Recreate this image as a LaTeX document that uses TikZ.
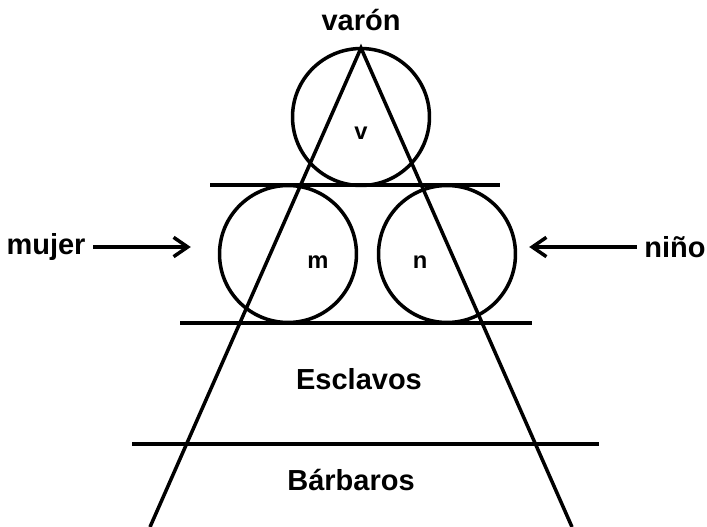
\documentclass[tikz,border=0pt]{standalone}
\usepackage{fontspec}
\setmainfont{Liberation Sans}
\usetikzlibrary{arrows.meta}

\begin{document}
\begin{tikzpicture}[x=0.02cm,y=-0.02cm,line width=2pt]
    \tikzstyle{ring}=[draw,circle,minimum size=2.74cm,inner sep=0]
    \tikzstyle{big}=[font=\fontsize{16.5}{20}\selectfont\bfseries]
    \tikzstyle{small}=[font=\fontsize{13.5}{16}\selectfont\bfseries]
    \tikzstyle{pointer}=[-{Straight Barb[length=8pt,width=11pt]}]
    \useasboundingbox (0,0) rectangle (707,527);
    % the three circles
    \node[ring] (v) at (361,117) {};
    \node[ring] (m) at (288,254) {};
    \node[ring] (n) at (447,254) {};
    \node[small] (vl) at (361,133) {v};
    \node[small] (ml) at (318,262) {m};
    \node[small] (nl) at (420,262) {n};
    % the triangle
    \coordinate (apex) at (361,48);
    \coordinate (bl) at (150,527);
    \coordinate (br) at (572,527);
    \draw (bl) -- (apex) -- (br);
    % the levels
    \draw (210,185) -- (500,185);
    \draw (180,323) -- (532,323);
    \draw (132,444) -- (599,444);
    \node[big] (varon) at (361,20) {varón};
    \node[big] (escl) at (359,379) {Esclavos};
    \node[big] (barb) at (351,480) {Bárbaros};
    % the pointers
    \node[big] (mujer) at (46,247) {mujer};
    \node[big] (nino) at (675,247) {niño};
    \draw[pointer,shorten >=0.54cm] (mujer.east) -- (mujer.east -| m.west);
    \draw[pointer,shorten >=0.24cm] (nino.west) -- (nino.west -| n.east);
\end{tikzpicture}
\end{document}
